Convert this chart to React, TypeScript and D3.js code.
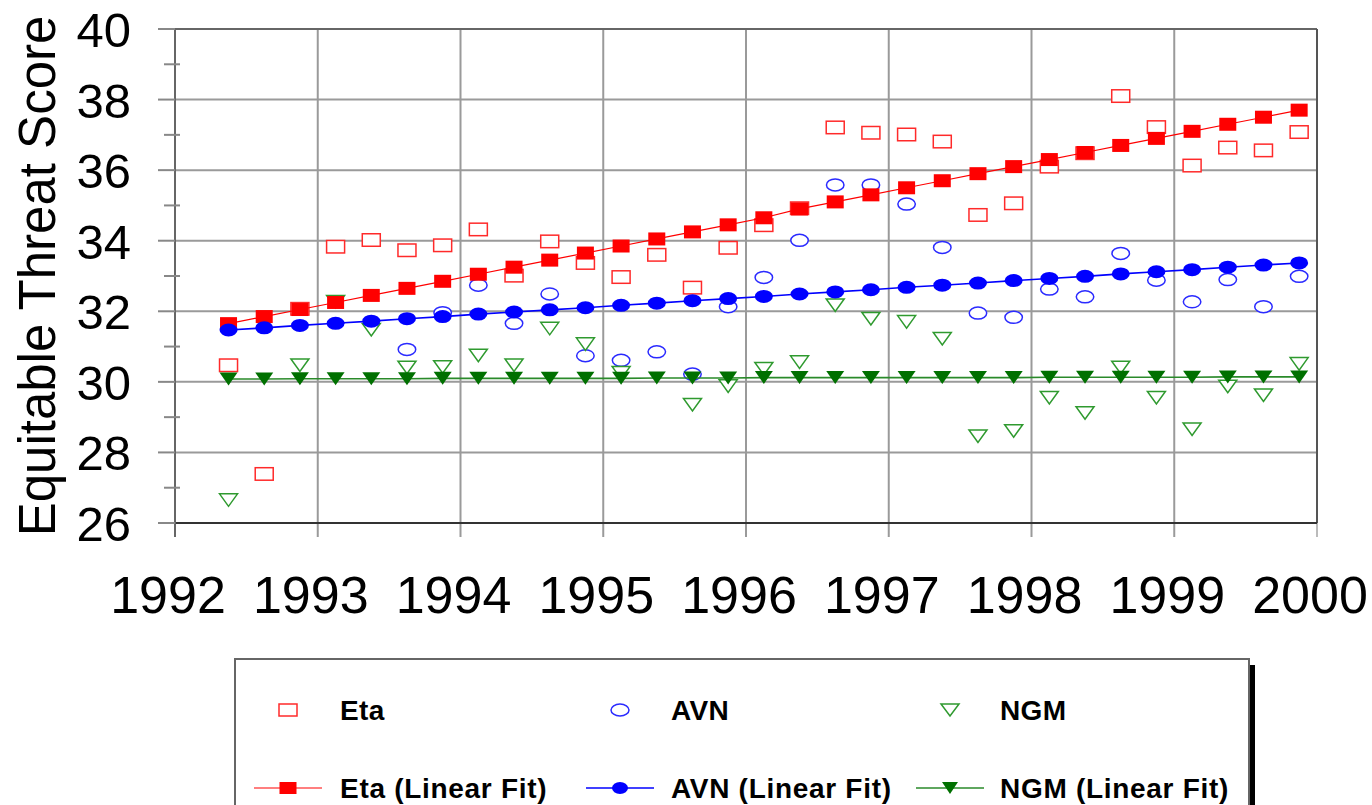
import React from "react";
import * as d3 from "d3";

// ---- data ----
const times = [
  1992.375, 1992.625, 1992.875, 1993.125, 1993.375, 1993.625, 1993.875, 1994.125,
  1994.375, 1994.625, 1994.875, 1995.125, 1995.375, 1995.625, 1995.875, 1996.125,
  1996.375, 1996.625, 1996.875, 1997.125, 1997.375, 1997.625, 1997.875, 1998.125,
  1998.375, 1998.625, 1998.875, 1999.125, 1999.375, 1999.625, 1999.875,
];

const etaObs: (number | null)[] = [
  30.47, 27.39, 32.07, 33.83, 34.02, 33.73, 33.87, 34.32, 33.01, 33.98,
  33.37, 32.97, 33.6, 32.67, 33.8, 34.44, 34.92, 37.21, 37.06, 37.01, 36.81,
  34.73, 35.06, 36.1, 36.48, 38.1, 37.22, 36.13, 36.64, 36.56, 37.08,
];

const avnObs: (number | null)[] = [
  null, null, null, null, null, 30.92, 31.96, 32.74, 31.66, 32.49,
  30.74, 30.61, 30.85, 30.22, 32.13, 32.96, 34.01, 35.58, 35.58, 35.04, 33.81,
  31.95, 31.83, 32.63, 32.41, 33.64, 32.88, 32.27, 32.9, 32.13, 32.99,
];

const ngmObs: (number | null)[] = [
  26.65, null, 30.47, 32.27, 31.48, 30.41, 30.42, 30.75, 30.47, 31.51,
  31.07, 30.26, null, 29.35, 29.88, 30.37, 30.56, 32.17, 31.79, 31.7, 31.22,
  28.46, 28.61, 29.55, 29.12, 30.41, 29.55, 28.66, 29.87, 29.62, 30.51,
];

const etaFit = [
  31.65, 31.85, 32.05, 32.25, 32.45, 32.65, 32.85, 33.05, 33.25, 33.45,
  33.65, 33.85, 34.05, 34.25, 34.45, 34.65, 34.9, 35.1, 35.3, 35.5, 35.7,
  35.9, 36.1, 36.3, 36.5, 36.7, 36.9, 37.1, 37.3, 37.5, 37.7,
];

const avnFit = [
  31.47, 31.53, 31.6, 31.66, 31.72, 31.79, 31.85, 31.92, 31.98, 32.04,
  32.1, 32.17, 32.23, 32.3, 32.36, 32.42, 32.49, 32.55, 32.61, 32.68, 32.74,
  32.8, 32.87, 32.93, 32.99, 33.06, 33.12, 33.18, 33.25, 33.31, 33.37,
];

const ngmFit = [
  30.08, 30.08, 30.09, 30.09, 30.09, 30.09, 30.1, 30.1, 30.1, 30.1,
  30.1, 30.1, 30.11, 30.11, 30.11, 30.12, 30.12, 30.12, 30.12, 30.12, 30.12,
  30.12, 30.12, 30.13, 30.13, 30.13, 30.13, 30.13, 30.14, 30.14, 30.14,
];

const yearTicks = [1992, 1993, 1994, 1995, 1996, 1997, 1998, 1999, 2000];
const yMajorTicks = [26, 28, 30, 32, 34, 36, 38, 40];
const yMinorTicks = [27, 29, 31, 33, 35, 37, 39];

const yTitle = "Equitable Threat Score";
const legendNames = ["Eta", "AVN", "NGM"];
const fitSuffix = " (Linear Fit)";

// ---- layout & style ----
const W = 1372;
const H = 805;
const L = 175, R = 1317, T = 29, B = 523;
const FONT = "'Liberation Sans', Arial, Helvetica, sans-serif";

const RED = "#ff0000";
const RED_OPEN = "#ff2a2a";
const BLUE = "#0000ff";
const BLUE_OPEN = "#2a2aff";
const GREEN_FILL = "#007000";
const GREEN_OPEN = "#2f9a2f";
const GREEN_LINE = "#2a8a2a";

type Kind = "square" | "circle" | "tri";

function Marker({ kind, cx, cy, filled, color, w, h, sw = 1.5 }: {
  kind: Kind; cx: number; cy: number; filled: boolean; color: string; w: number; h: number; sw?: number;
}) {
  const fill = filled ? color : "white";
  const stroke = filled ? "none" : color;
  if (kind === "square") {
    return <rect x={cx - w / 2} y={cy - h / 2} width={w} height={h} fill={fill} stroke={stroke} strokeWidth={sw} />;
  }
  if (kind === "circle") {
    return <ellipse cx={cx} cy={cy} rx={w / 2} ry={h / 2} fill={fill} stroke={stroke} strokeWidth={sw} />;
  }
  const p = `M${cx - w / 2},${cy - h / 2}L${cx + w / 2},${cy - h / 2}L${cx},${cy + h / 2}Z`;
  return <path d={p} fill={fill} stroke={stroke} strokeWidth={sw} strokeLinejoin="miter" />;
}

export default function App() {
  const x = d3.scaleLinear().domain([1992, 2000]).range([L, R]);
  const y = d3.scaleLinear().domain([26, 40]).range([B, T]);

  const line = d3.line<number>()
    .x((_, i) => x(times[i]))
    .y((d) => y(d));

  const openSeries: { vals: (number | null)[]; kind: Kind; color: string; w: number; h: number }[] = [
    { vals: etaObs, kind: "square", color: RED_OPEN, w: 18, h: 12.5 },
    { vals: avnObs, kind: "circle", color: BLUE_OPEN, w: 17.5, h: 12 },
    { vals: ngmObs, kind: "tri", color: GREEN_OPEN, w: 18, h: 12.5 },
  ];
  const fitSeries: { vals: number[]; kind: Kind; color: string; lineColor: string; lw: number; w: number; h: number }[] = [
    { vals: etaFit, kind: "square", color: RED, lineColor: RED, lw: 1.2, w: 17, h: 13 },
    { vals: avnFit, kind: "circle", color: BLUE, lineColor: BLUE, lw: 1.6, w: 18, h: 13 },
    { vals: ngmFit, kind: "tri", color: GREEN_FILL, lineColor: GREEN_LINE, lw: 1.6, w: 18, h: 13 },
  ];

  const legendSym = [288, 620, 950];
  const legendText = [340, 671, 1000];
  const row1 = 710;
  const row2 = 788;

  return (
    <svg width={W} height={H} style={{ position: "absolute", left: 0, top: 0, background: "white" }}
      fontFamily={FONT}>
      <rect x={0} y={0} width={W} height={H} fill="white" />

      {/* grid */}
      {yearTicks.slice(1, -1).map((t) => (
        <line key={"vg" + t} x1={x(t)} x2={x(t)} y1={T} y2={B + 14} stroke="#9a9a9a" strokeWidth={2} />
      ))}
      {yMajorTicks.slice(1, -1).map((v) => (
        <line key={"hg" + v} x1={L} x2={R} y1={y(v)} y2={y(v)} stroke="#9a9a9a" strokeWidth={2} />
      ))}
      <line x1={R} x2={R} y1={B} y2={B + 14} stroke="#bbbbbb" strokeWidth={2} />

      {/* frame */}
      <line x1={L} x2={R} y1={T} y2={T} stroke="#666" strokeWidth={2} />
      <line x1={R} x2={R} y1={T} y2={B} stroke="#555" strokeWidth={2} />
      <line x1={L} x2={R} y1={B} y2={B} stroke="#333" strokeWidth={2} />
      <line x1={L} x2={L} y1={T} y2={B + 14} stroke="#666" strokeWidth={2} />

      {/* y ticks */}
      {yMajorTicks.map((v) => (
        <line key={"ymt" + v} x1={L - 17} x2={L} y1={y(v)} y2={y(v)} stroke="#888" strokeWidth={2} />
      ))}
      {yMinorTicks.map((v) => (
        <line key={"ymn" + v} x1={L - 11} x2={L + 5} y1={y(v)} y2={y(v)} stroke="#888" strokeWidth={2} />
      ))}

      {/* y tick labels */}
      {yMajorTicks.map((v) => (
        <text key={"yl" + v} x={131} y={y(v) + 18} textAnchor="end" fontSize={49} fill="#000">
          {d3.format("d")(v)}
        </text>
      ))}

      {/* x tick labels */}
      {yearTicks.map((t) => (
        <text key={"xl" + t} x={x(t) - 7} y={613} textAnchor="middle" fontSize={52} fill="#000">
          {String(t)}
        </text>
      ))}

      {/* y title */}
      <text transform={`translate(55,276) rotate(-90)`} textAnchor="middle" fontSize={51} fill="#000">
        {yTitle}
      </text>

      {/* observations */}
      {openSeries.map((s, si) => (
        <g key={"os" + si}>
          {s.vals.map((v, i) =>
            v == null ? null : (
              <Marker key={i} kind={s.kind} cx={x(times[i])} cy={y(v)} filled={false} color={s.color} w={s.w} h={s.h} />
            )
          )}
        </g>
      ))}

      {/* fits */}
      {fitSeries.map((s, si) => (
        <g key={"fs" + si}>
          <path d={line(s.vals) || ""} fill="none" stroke={s.lineColor} strokeWidth={s.lw} />
          {s.vals.map((v, i) => (
            <Marker key={i} kind={s.kind} cx={x(times[i])} cy={y(v)} filled={true} color={s.color} w={s.w} h={s.h} />
          ))}
        </g>
      ))}

      {/* legend */}
      <rect x={1249} y={665} width={6} height={H - 665} fill="#000" />
      <rect x={235} y={659} width={1014} height={H} fill="white" stroke="#666" strokeWidth={2} />
      {openSeries.map((s, i) => (
        <g key={"lo" + i}>
          <Marker kind={s.kind} cx={legendSym[i]} cy={row1} filled={false} color={s.color} w={18} h={12} />
          <text x={legendText[i]} y={row1 + 10} fontSize={28} fontWeight="bold" letterSpacing={0.4} fill="#000">
            {legendNames[i]}
          </text>
        </g>
      ))}
      {fitSeries.map((s, i) => (
        <g key={"lf" + i}>
          <line x1={legendSym[i] - 34} x2={legendSym[i] + 34} y1={row2} y2={row2} stroke={s.lineColor} strokeWidth={s.lw} />
          <Marker kind={s.kind} cx={legendSym[i]} cy={row2} filled={true} color={s.color} w={s.kind === "square" ? 17 : 16} h={12} />
          <text x={legendText[i]} y={row2 + 10} fontSize={28} fontWeight="bold" letterSpacing={0.7} fill="#000">
            {legendNames[i] + fitSuffix}
          </text>
        </g>
      ))}
    </svg>
  );
}
